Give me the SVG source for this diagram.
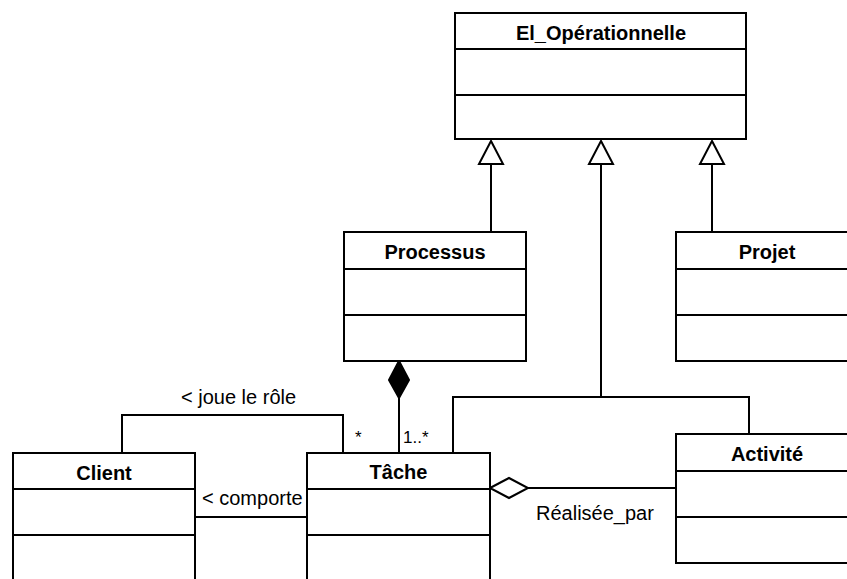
<svg xmlns="http://www.w3.org/2000/svg" width="847" height="579" viewBox="0 0 847 579">
<style>
.box{fill:#fff;stroke:#000;stroke-width:2}
.ln{fill:none;stroke:#000;stroke-width:2}
.t{font-family:"Liberation Sans",Arial,sans-serif;font-size:20px;font-weight:bold;text-anchor:middle;fill:#000}
.l{font-family:"Liberation Sans",Arial,sans-serif;font-size:20px;fill:#000}
.s{font-family:"Liberation Sans",Arial,sans-serif;font-size:17px;fill:#000}
</style>
<g id="connectors">
<path class="ln" d="M491,164 V232"/>
<polygon points="491,141 479,164 503,164" fill="#fff" stroke="#000" stroke-width="2"/>
<path class="ln" d="M712,164 V232"/>
<polygon points="712,141 700,164 724,164" fill="#fff" stroke="#000" stroke-width="2"/>
<path class="ln" d="M601,164 V397 M453,453 V397 H749 V434"/>
<polygon points="601,141 589,164 613,164" fill="#fff" stroke="#000" stroke-width="2"/>
<path class="ln" d="M399,398 V453"/>
<polygon points="399,361 409,380 399,398 389,380" fill="#000" stroke="#000" stroke-width="2"/>
<path class="ln" d="M122,453 V415 H343 V453"/>
<path class="ln" d="M195,517 H307"/>
<path class="ln" d="M528,488 H676"/>
<polygon points="490,488 509,478 528,488 509,498" fill="#fff" stroke="#000" stroke-width="2"/>
<text class="l" x="181" y="404">&lt; joue le rôle</text>
<text class="l" x="202" y="505">&lt; comporte</text>
<text class="l" x="536" y="520">Réalisée_par</text>
<text class="s" x="355" y="443">*</text>
<text class="s" x="403" y="443">1..*</text>
</g>
<g id="el_operationnelle">
<rect class="box" x="455" y="13" width="291" height="126"/>
<path class="ln" d="M455,49 H746 M455,95 H746"/>
<text class="t" x="601" y="40">El_Opérationnelle</text>
</g>
<g id="processus">
<rect class="box" x="344" y="232" width="182" height="129"/>
<path class="ln" d="M344,269 H526 M344,315 H526"/>
<text class="t" x="435" y="259">Processus</text>
</g>
<g id="projet">
<rect class="box" x="676" y="232" width="182" height="129"/>
<path class="ln" d="M676,269 H858 M676,315 H858"/>
<text class="t" x="767" y="259">Projet</text>
</g>
<g id="client">
<rect class="box" x="13" y="453" width="182" height="131"/>
<path class="ln" d="M13,489 H195 M13,535 H195"/>
<text class="t" x="104" y="480">Client</text>
</g>
<g id="tache">
<rect class="box" x="307" y="453" width="183" height="131"/>
<path class="ln" d="M307,489 H490 M307,535 H490"/>
<text class="t" x="398.5" y="479">Tâche</text>
</g>
<g id="activite">
<rect class="box" x="676" y="434" width="182" height="129"/>
<path class="ln" d="M676,471 H858 M676,517 H858"/>
<text class="t" x="767" y="461">Activité</text>
</g>
</svg>
